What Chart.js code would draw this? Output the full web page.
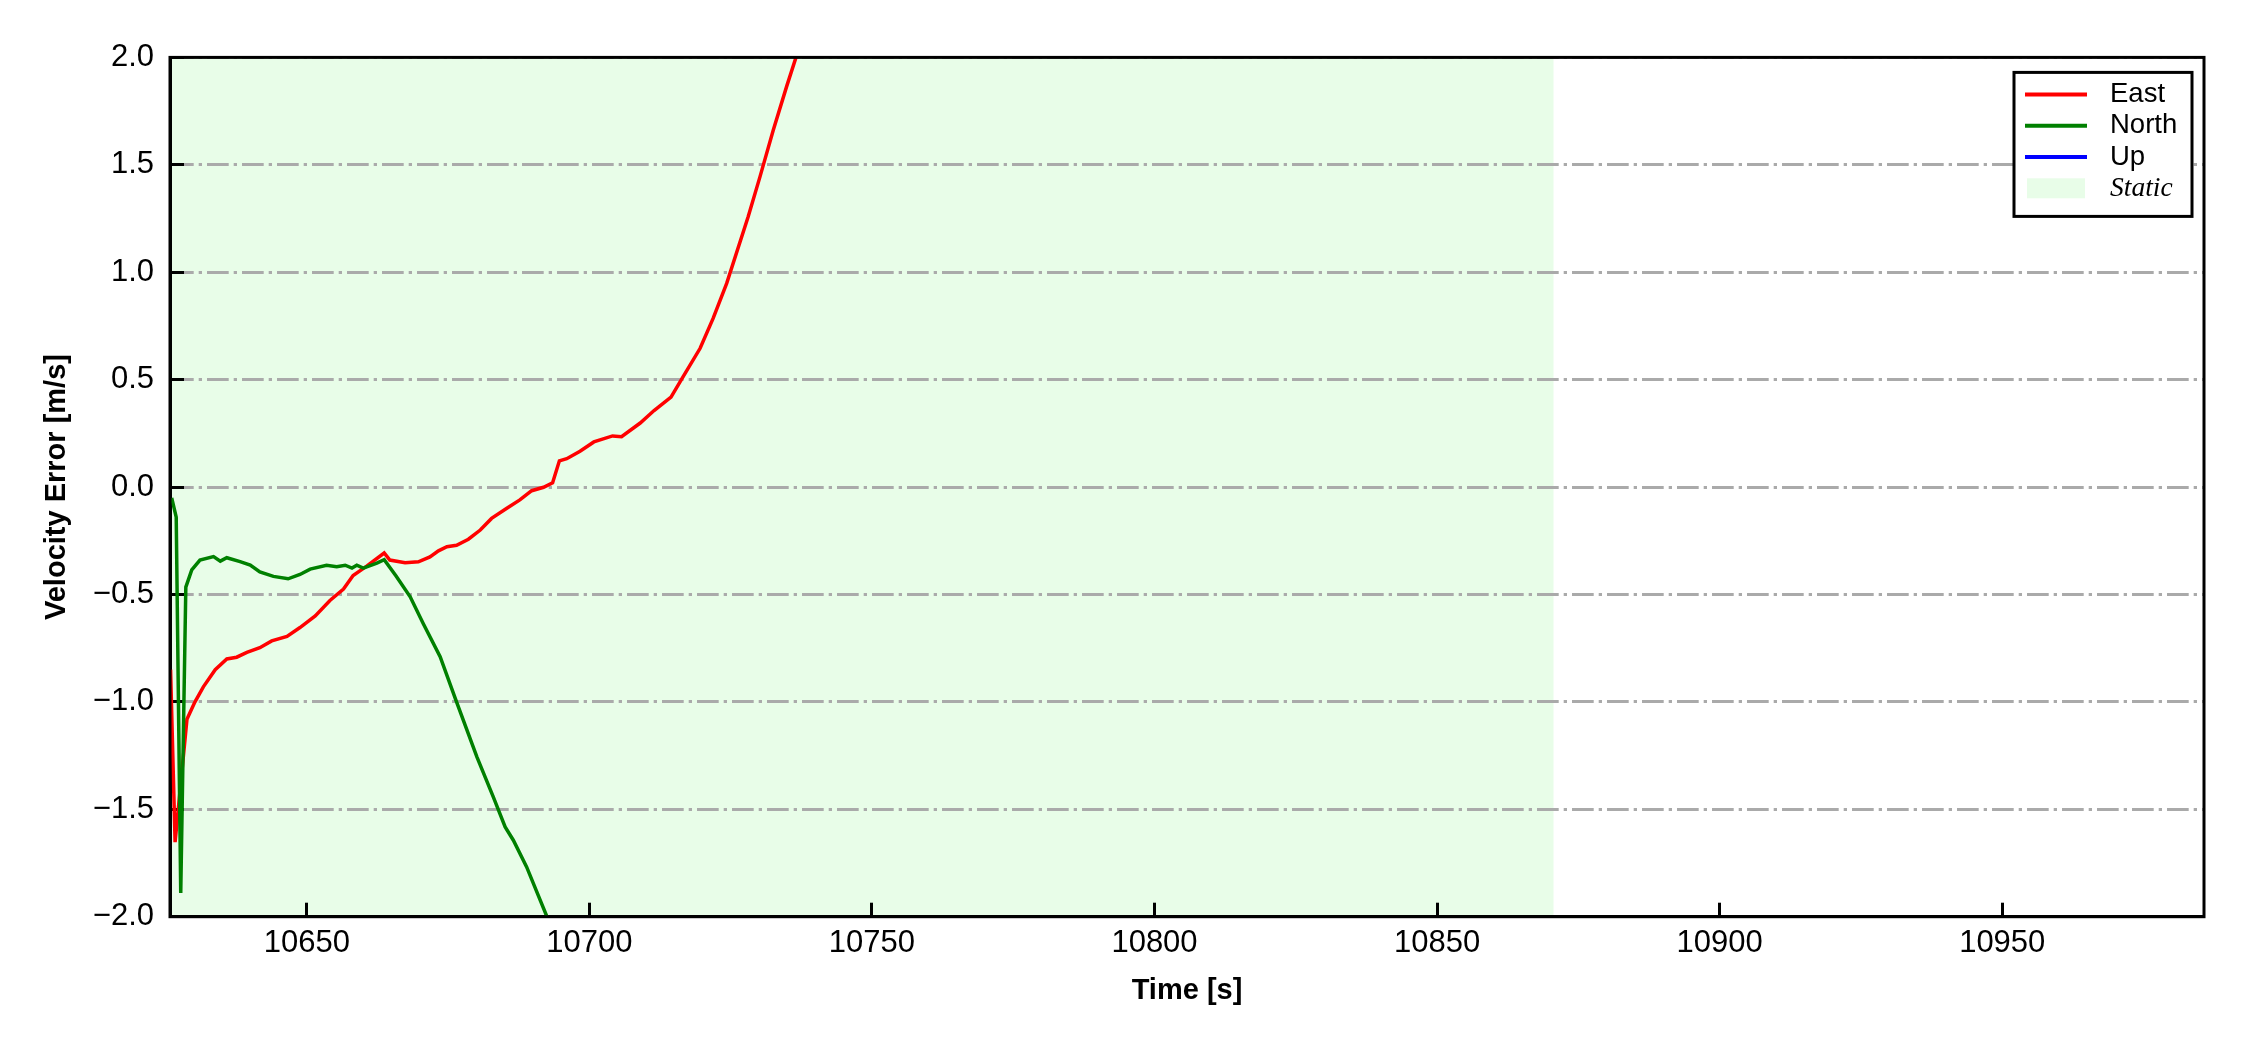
<!DOCTYPE html>
<html lang="en">
<head>
    <meta charset="UTF-8">
    <title>Velocity Error</title>
    <style>
        body {
            margin: 0;
            padding: 0;
            background-color: #fff;
            overflow: hidden;
        }

        .chart-box {
            width: 2250px;
            height: 1050px;
        }
    </style>
</head>
<body>

    <div class="chart-box">
        <canvas id="velChart"></canvas>
    </div>

    <script src="https://cdn.jsdelivr.net/npm/chart.js"></script>
    <script>
        // East velocity error (time in s, value in m/s)
        const eastTime = [10625.9, 10626.7, 10628.8, 10630.2, 10631.7, 10633.8, 10635.85, 10637.6, 10639.4, 10641.7,
            10643.8, 10646.5, 10648.8, 10651.5, 10654.1, 10656.5, 10658.2, 10660.6, 10663.7, 10664.7,
            10667.4, 10669.75, 10671.8, 10673.3, 10674.8, 10676.5, 10678.6, 10680.7, 10682.7, 10685.4,
            10687.7, 10689.8, 10691.9, 10693.5, 10694.7, 10696.0, 10698.35, 10700.8, 10704.1, 10705.7,
            10709.0, 10711.45, 10714.45, 10716.6, 10719.6, 10721.9, 10724.3, 10728.1, 10730.2, 10732.55,
            10734.9, 10736.6, 10740.0];
        const eastVal = [-0.85, -1.653, -1.081, -1.001, -0.93, -0.85, -0.8, -0.792, -0.77, -0.748,
            -0.716, -0.695, -0.654, -0.6, -0.528, -0.475, -0.412, -0.368, -0.307, -0.34,
            -0.352, -0.348, -0.325, -0.297, -0.278, -0.271, -0.243, -0.2, -0.146, -0.099,
            -0.06, -0.017, -0.001, 0.02, 0.122, 0.132, 0.167, 0.21, 0.238, 0.234,
            0.298, 0.356, 0.419, 0.514, 0.646, 0.785, 0.948, 1.258, 1.445, 1.662,
            1.864, 2.003, 2.4];

        // North velocity error
        const northTime = [10626.1, 10626.9, 10627.7, 10628.6, 10629.65, 10631.1, 10633.5, 10634.7, 10635.85, 10638.2,
            10640.0, 10641.7, 10644.1, 10646.7, 10648.8, 10650.6, 10653.5, 10655.3, 10656.8, 10658.0,
            10658.85, 10660.0, 10662.4, 10663.7, 10665.8, 10668.3, 10670.6, 10673.6, 10676.5, 10680.1,
            10683.0, 10685.1, 10686.55, 10688.9, 10692.5, 10695.0];
        const northVal = [-0.05, -0.14, -1.89, -0.466, -0.386, -0.34, -0.324, -0.345, -0.329, -0.347,
            -0.363, -0.395, -0.416, -0.427, -0.407, -0.382, -0.364, -0.371, -0.364, -0.377,
            -0.364, -0.377, -0.354, -0.338, -0.414, -0.511, -0.635, -0.79, -1.0, -1.256,
            -1.442, -1.582, -1.644, -1.768, -2.0, -2.15];

        // Up never shows inside the plotted range
        const upTime = [];
        const upVal = [];

        // static period and axis limits
        const staticStart = 10625.8;
        const staticEnd = 10870.6;
        const xMin = 10625.8;
        const xMax = 10985.7;
        const yMin = -2;
        const yMax = 2;

        const toPoints = (ts, vs) => ts.map((t, i) => ({ x: t, y: vs[i] }));
        const fmtY = v => v.toFixed(1).replace('-', '\u2212');

        const staticColor = '#e8fde8';

        // light green band behind everything
        const staticBand = {
            id: 'staticBand',
            beforeDraw(chart) {
                const { ctx, chartArea, scales } = chart;
                const x0 = Math.max(scales.x.getPixelForValue(staticStart), chartArea.left);
                const x1 = Math.min(scales.x.getPixelForValue(staticEnd), chartArea.right);
                ctx.save();
                ctx.fillStyle = staticColor;
                ctx.fillRect(x0, chartArea.top, x1 - x0, chartArea.bottom - chartArea.top);
                ctx.restore();
            }
        };

        // black frame round the plot
        const frame = {
            id: 'frame',
            afterDatasetsDraw(chart) {
                const { ctx, chartArea } = chart;
                ctx.save();
                ctx.strokeStyle = '#000';
                ctx.lineWidth = 3;
                ctx.strokeRect(chartArea.left, chartArea.top, chartArea.right - chartArea.left, chartArea.bottom - chartArea.top);
                ctx.restore();
            }
        };

        // legend box in the top right corner
        const legendBox = {
            id: 'legendBox',
            afterDraw(chart) {
                const { ctx, chartArea } = chart;
                const w = 178, h = 144;
                const left = chartArea.right - 12 - w;
                const top = chartArea.top + 15;
                const rowY = i => top + 22 + i * 31.3;

                ctx.save();
                ctx.fillStyle = '#fff';
                ctx.fillRect(left, top, w, h);
                ctx.strokeStyle = '#000';
                ctx.lineWidth = 3;
                ctx.strokeRect(left, top, w, h);

                ctx.textBaseline = 'middle';
                ctx.textAlign = 'left';
                chart.data.datasets.forEach((ds, i) => {
                    const y = rowY(i);
                    ctx.strokeStyle = ds.borderColor;
                    ctx.lineWidth = 4;
                    ctx.beginPath();
                    ctx.moveTo(left + 11, y);
                    ctx.lineTo(left + 73, y);
                    ctx.stroke();
                    ctx.fillStyle = '#000';
                    ctx.font = '27.5px "Liberation Sans", Arial, sans-serif';
                    ctx.fillText(ds.label, left + 96, y);
                });

                const ys = rowY(chart.data.datasets.length);
                ctx.fillStyle = staticColor;
                ctx.fillRect(left + 13, ys - 10, 58, 20);
                ctx.fillStyle = '#000';
                ctx.font = 'italic 27.5px "Liberation Serif", "Times New Roman", serif';
                ctx.fillText('Static', left + 96, ys);
                ctx.restore();
            }
        };

        Chart.defaults.font.family = '"Liberation Sans", Arial, sans-serif';
        Chart.defaults.color = '#000';

        const ctx = document.getElementById('velChart').getContext('2d');
        const velChart = new Chart(ctx, {
            type: 'line',
            data: {
                datasets: [
                    {
                        label: 'East',
                        data: toPoints(eastTime, eastVal),
                        borderColor: '#ff0000',
                        borderWidth: 3.5,
                        order: 1
                    },
                    {
                        label: 'North',
                        data: toPoints(northTime, northVal),
                        borderColor: '#008000',
                        borderWidth: 3.5,
                        order: 0
                    },
                    {
                        label: 'Up',
                        data: toPoints(upTime, upVal),
                        borderColor: '#0000ff',
                        borderWidth: 3.5,
                        order: 2
                    }
                ]
            },
            options: {
                responsive: true,
                maintainAspectRatio: false,
                animation: false,
                elements: {
                    point: { radius: 0 },
                    line: { tension: 0, fill: false }
                },
                layout: {
                    padding: { top: 57.4, right: 46, bottom: 0, left: 0 }
                },
                plugins: {
                    legend: { display: false },
                    tooltip: { enabled: false }
                },
                scales: {
                    x: {
                        type: 'linear',
                        min: xMin,
                        max: xMax,
                        afterFit: scale => { scale.height = 133.3; },
                        grid: {
                            drawOnChartArea: false,
                            drawTicks: true,
                            tickLength: -14,
                            tickColor: '#000',
                            tickWidth: 3
                        },
                        border: { display: true, color: '#000', width: 3 },
                        ticks: {
                            stepSize: 50,
                            includeBounds: false,
                            autoSkip: false,
                            maxRotation: 0,
                            padding: 22,
                            font: { size: 31 },
                            callback: v => String(v)
                        },
                        title: {
                            display: true,
                            text: 'Time [s]',
                            font: { size: 29, weight: 'bold' },
                            padding: { top: 0, bottom: 41.6 }
                        }
                    },
                    y: {
                        type: 'linear',
                        min: yMin,
                        max: yMax,
                        afterFit: scale => { scale.width = 170; },
                        grid: {
                            color: '#aaaaaa',
                            lineWidth: 3,
                            drawTicks: true,
                            tickLength: -14,
                            tickColor: '#000',
                            tickWidth: 3
                        },
                        border: { display: true, color: '#000', width: 3, dash: [21.7, 5, 3.3, 5] },
                        ticks: {
                            stepSize: 0.5,
                            autoSkip: false,
                            padding: 30,
                            font: { size: 31 },
                            callback: v => fmtY(v)
                        },
                        title: {
                            display: true,
                            text: 'Velocity Error [m/s]',
                            font: { size: 29, weight: 'bold' },
                            padding: { top: 40, bottom: 0 }
                        }
                    }
                }
            },
            plugins: [staticBand, frame, legendBox]
        });
    </script>

</body>
</html>
